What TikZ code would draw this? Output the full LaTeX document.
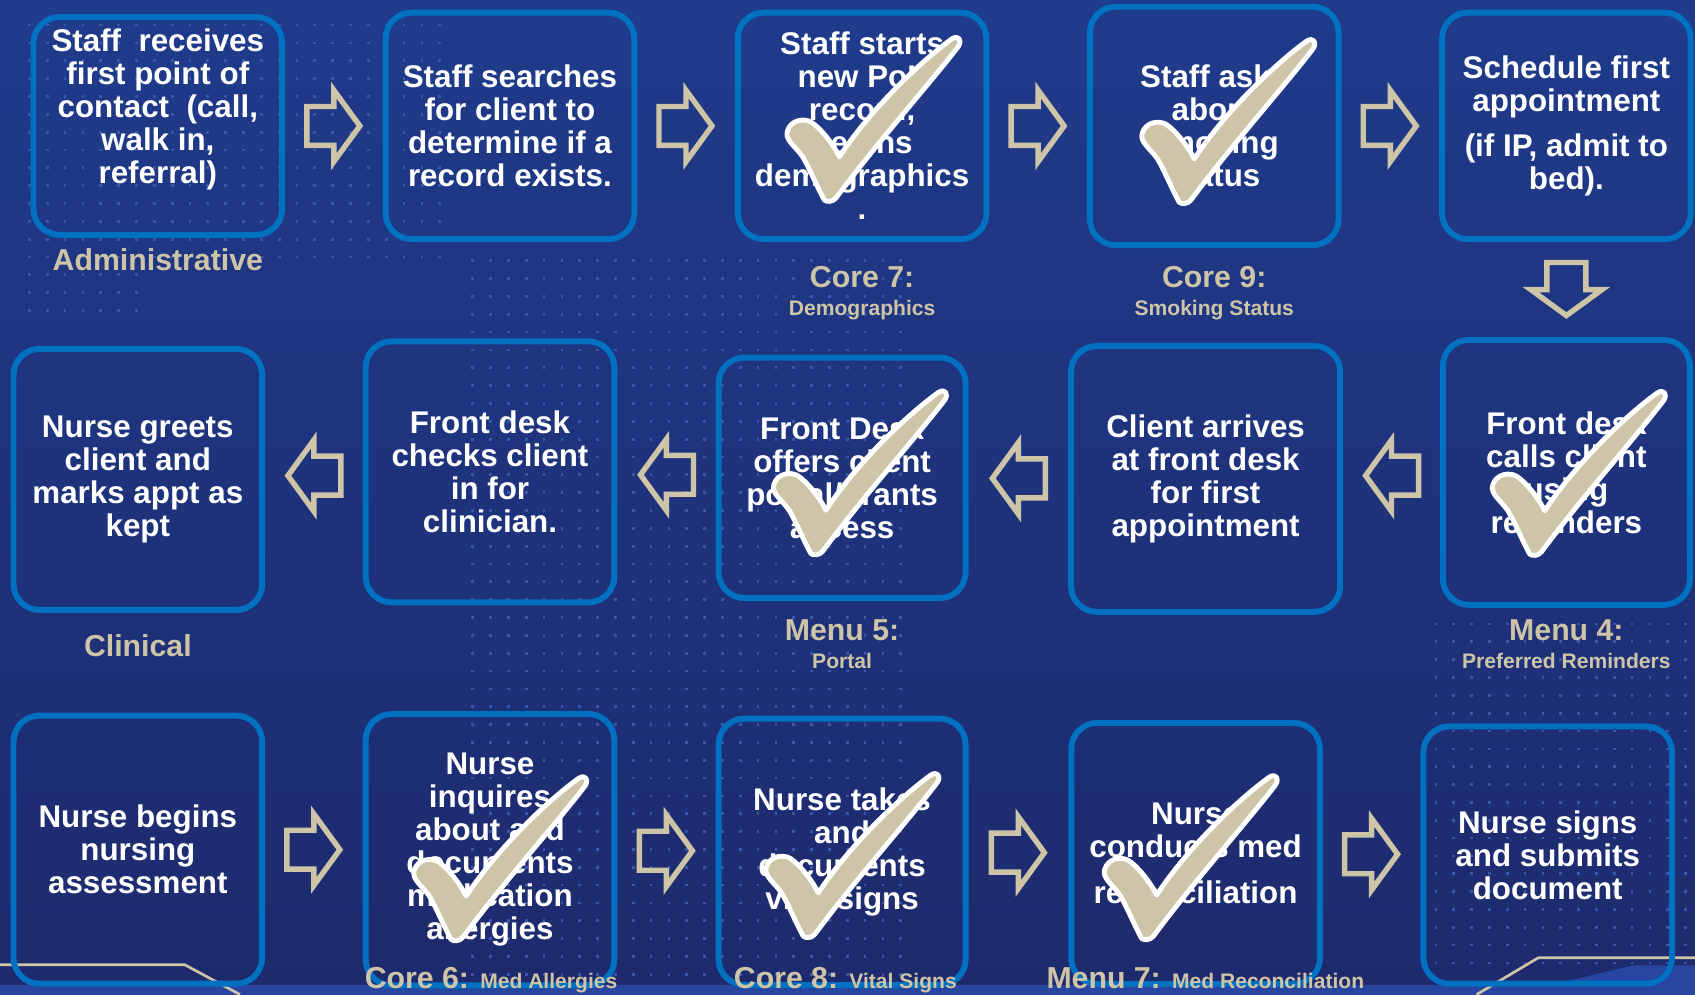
\documentclass[tikz,border=0pt]{standalone}
\usepackage{fontspec}
\setmainfont{Liberation Sans}
\usetikzlibrary{positioning,calc}

\definecolor{bgtop}{HTML}{1F3B8B}
\definecolor{bgbottom}{HTML}{1E2A6D}
\definecolor{boxblue}{HTML}{0070C0}
\definecolor{tan}{HTML}{CEC4A7}
\definecolor{dotblue}{HTML}{3957A8}
\definecolor{bandblue}{HTML}{2845A0}

\newcommand{\subtag}[1]{{\fontsize{19.5}{20}\selectfont #1}}

\tikzset{
	stepbox/.style={draw=boxblue, line width=5.5pt, rounded corners=24pt,
		minimum width=230pt, minimum height=210pt, inner sep=0pt,
		align=center, text=white, font=\fontsize{29}{30.5}\selectfont\bfseries},
	tag/.style={text=tan, inner sep=0pt, align=center,
		font=\fontsize{28}{26}\selectfont\bfseries},
	arrowline/.style={draw=tan, line width=5pt, line join=miter},
	tickline/.style={fill=tan, draw=white, line width=4.5pt, line join=round},
	rarrow/.pic={
		\draw[arrowline] (-25,-18) -- (0,-18) -- (0,-33) -- (24,0) -- (0,33) -- (0,18) -- (-25,18) -- cycle;
	},
	tick/.pic={
		\filldraw[tickline] (0,0) .. controls (-8,-15) and (-14,-30) .. (-20,-40)
			.. controls (-27,-50) and (-37,-56) .. (-34,-64)
			.. controls (-31,-74) and (-19,-76) .. (-12,-72)
			.. controls (-3,-66) and (8,-52) .. (14,-40)
			.. controls (40,-80) and (85,-125) .. (118,-149)
			.. controls (124,-153) and (128,-148) .. (124,-142)
			.. controls (98,-108) and (48,-52) .. (11,-2)
			.. controls (8,2) and (2,2) .. (0,0) -- cycle;
	}
}

\begin{document}
\begin{tikzpicture}[x=1pt, y=-1pt, node distance=325.75pt]
	% Background
	\useasboundingbox (0,0) rectangle (1568,920);
	\shade [top color=bgtop, bottom color=bgbottom] (0,0) rectangle (1568,920);
	\foreach \i in {0,...,23} \foreach \j in {0,...,13}
		\fill [dotblue] (26+16.5*\i, 22+16.5*\j) rectangle ++(2.5,2.5);
	\foreach \i in {0,...,6} \foreach \j in {14,...,16}
		\fill [dotblue] (26+16.5*\i, 22+16.5*\j) rectangle ++(2.5,2.5);
	\foreach \i in {0,...,24} \foreach \j in {0,...,40}
		\fill [dotblue] (436+16.5*\i, 240+16.5*\j) rectangle ++(2.5,2.5);
	\foreach \i in {0,...,14} \foreach \j in {0,...,19}
		\fill [dotblue] (1327+16.5*\i, 576+16.5*\j) rectangle ++(2.5,2.5);
	\fill [bandblue] (0,911) rectangle (1568,920);
	\fill [bandblue] (1397,920) -- (1511,893) -- (1568,893) -- (1568,920) -- cycle;
	\draw [tan, line width=2.5pt] (0,892.5) -- (171,892.5) -- (222,920);
	\draw [tan, line width=2.5pt] (1366,920) -- (1423,886) -- (1568,886);

	% Steps, row 1
	\node [stepbox, minimum height=201.5pt] (admin) at (146,116.5) {Staff~ receives\\first point of\\contact~ (call,\\walk in,\\referral)\\[6pt]\mbox{}};
	\node [stepbox, minimum height=209.5pt] (search) [right of=admin] {Staff searches\\for client to\\determine if a\\record exists.};
	\node [stepbox, minimum height=209.5pt] (newrec) [right of=search] {Staff starts\\new PoL\\record,\\begins\\demographics\\.};
	\node [stepbox, minimum height=220.5pt] (smoke) [right of=newrec] {Staff asks\\about\\smoking\\status};
	\node [stepbox, minimum height=209.5pt] (sched) [right of=smoke] {Schedule first\\appointment\\[11.5pt](if IP, admit to\\bed).};

	% Steps, row 2
	\node [stepbox, node distance=320.5pt, minimum height=245pt, minimum width=228.5pt] (remind) [below of=sched] {Front desk\\calls client\\using\\reminders};
	\node [stepbox, minimum height=246pt, minimum width=249pt] (arrive) [left of=remind, xshift=-8pt, yshift=-6pt] {Client arrives\\at front desk\\for first\\appointment};
	\node [stepbox, minimum height=222.5pt, minimum width=228.5pt] (portal) [left of=arrive, xshift=-10.5pt, yshift=1pt] {Front Desk\\offers client\\portal/grants\\access};
	\node [stepbox, minimum height=241.5pt] (checkin) [left of=portal, yshift=5.5pt] {Front desk\\checks client\\in for\\clinician.};
	\node [stepbox, minimum height=241.5pt] (greet) [left of=checkin, yshift=-7pt] {Nurse greets\\client and\\marks appt as\\kept};

	% Steps, row 3
	\node [stepbox, node distance=342.5pt, minimum height=248pt] (assess) [below of=greet] {Nurse begins\\nursing\\assessment};
	\node [stepbox, minimum height=251pt] (allergy) [right of=assess] {Nurse\\inquires\\about and\\documents\\medication\\allergies};
	\node [stepbox, minimum height=246.5pt, minimum width=228.5pt] (vitals) [right of=allergy, yshift=-2pt] {Nurse takes\\and\\documents\\vital signs};
	\node [stepbox, minimum height=241.5pt] (medrec) [right of=vitals, xshift=1.25pt, yshift=-1.5pt] {Nurse\\conducts med\\[12pt]reconciliation};
	\node [stepbox, minimum height=238pt] (signoff) [right of=medrec, yshift=-1.5pt] {Nurse signs\\and submits\\document};

	% Block arrows
	\pic at ($(admin.east)!0.5!(search.west)$) {rarrow};
	\pic at ($(search.east)!0.5!(newrec.west)$) {rarrow};
	\pic at ($(newrec.east)!0.5!(smoke.west)$) {rarrow};
	\pic at ($(smoke.east)!0.5!(sched.west)$) {rarrow};
	\pic [rotate=-90] at ($(sched.south)!0.5!(remind.north)$) {rarrow};
	\pic [rotate=180] at ($(arrive.east)!0.5!(remind.west)$) {rarrow};
	\pic [rotate=180] at ($(portal.east)!0.5!(arrive.west)$) {rarrow};
	\pic [rotate=180] at ($(checkin.east)!0.5!(portal.west)$) {rarrow};
	\pic [rotate=180] at ($(greet.east)!0.5!(checkin.west)$) {rarrow};
	\pic at ($(assess.east)!0.5!(allergy.west)$) {rarrow};
	\pic at ($(allergy.east)!0.5!(vitals.west)$) {rarrow};
	\pic at ($(vitals.east)!0.5!(medrec.west)$) {rarrow};
	\pic at ($(medrec.east)!0.5!(signoff.west)$) {rarrow};

	% Check marks
	\pic at ([shift={(-35,68.5)}]newrec.center) {tick};
	\pic at ([shift={(-32.5,70.5)}]smoke.center) {tick};
	\pic at ([shift={(-29,70)}]portal.center) {tick};
	\pic at ([shift={(-34,75.5)}]remind.center) {tick};
	\pic at ([shift={(-36,83)}]allergy.center) {tick};
	\pic at ([shift={(-36,78)}]vitals.center) {tick};
	\pic at ([shift={(-50,78.5)}]medrec.center) {tick};

	% Measure tags
	\node [tag] (admintag) [below=10pt of admin] {Administrative};
	\node [tag] (newrectag) [below=22pt of newrec] {Core 7:\\\subtag{Demographics}};
	\node [tag] (smoketag) [below=17pt of smoke] {Core 9:\\\subtag{Smoking Status}};
	\node [tag] (greettag) [below=20pt of greet] {Clinical};
	\node [tag] (portaltag) [below=17pt of portal] {Menu 5:\\\subtag{Portal}};
	\node [tag] (remindtag) [below=10.5pt of remind] {Menu 4:\\\subtag{Preferred Reminders}};
	\node [tag, anchor=base] (allergytag) at ([xshift=1pt, yshift=-0.5pt]allergy.south) {Core 6: \subtag{Med Allergies}};
	\node [tag, anchor=base] (vitalstag) at ([xshift=3pt, yshift=-0.5pt]vitals.south) {Core 8: \subtag{Vital Signs}};
	\node [tag, anchor=base] (medrectag) at ([xshift=9pt, yshift=-1.5pt]medrec.south) {Menu 7: \subtag{Med Reconciliation}};
\end{tikzpicture}
\end{document}
